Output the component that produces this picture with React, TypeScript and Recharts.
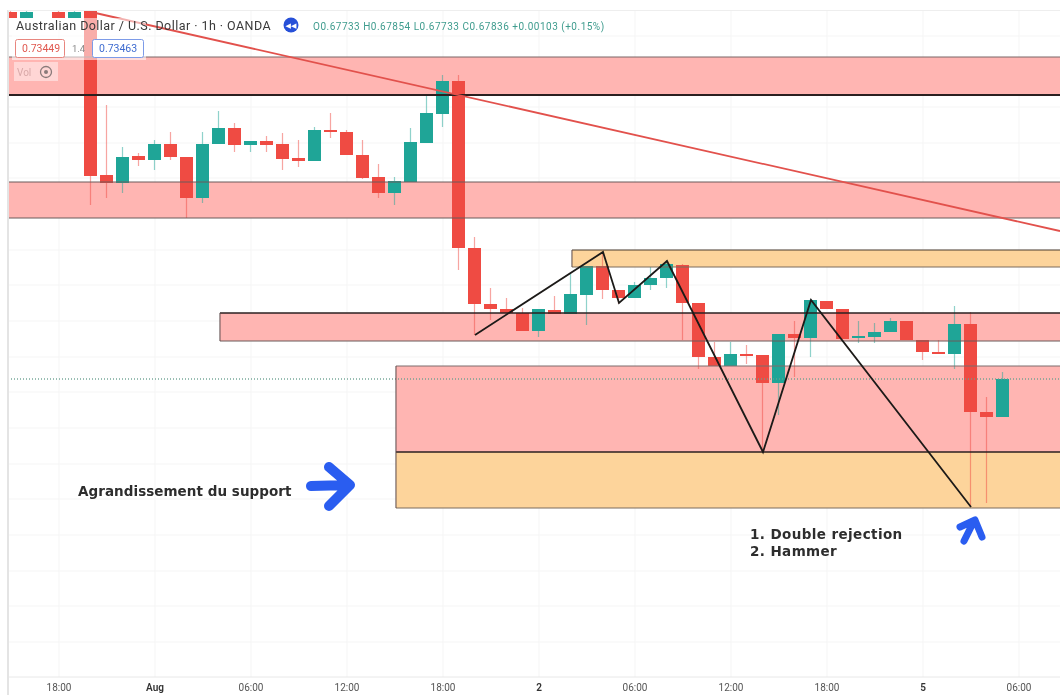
import React from "react";
import { ComposedChart, Bar, Line, XAxis, YAxis, CartesianGrid, ReferenceArea, ReferenceLine } from "recharts";

const hours = [0, 1, 3, 4, 5, 6, 7, 8, 9, 10, 11, 12, 13, 14, 15, 16, 17, 18, 19, 20, 21, 22, 23, 24, 25, 26, 27, 28, 29, 30, 31, 32, 33, 34, 35, 36, 37, 38, 39, 40, 41, 42, 43, 44, 45, 46, 47, 48, 49, 50, 51, 52, 53, 54, 55, 56, 57, 58, 59, 60, 61, 62];
const opens = [665, 659, 665, 659, 666, 502, 494, 521, 517, 533, 520, 479, 533, 549, 532, 536, 533, 519, 516, 547, 545, 522, 500, 484, 495, 534, 563, 596, 429, 373, 368, 364, 346, 367, 363, 382, 411, 387, 379, 392, 399, 412, 374, 320, 311, 323, 322, 294, 343, 339, 376, 368, 339, 340, 345, 356, 337, 325, 323, 353, 265, 260];
const highs = [666, 666, 666, 666, 667, 572, 530, 524, 537, 545, 520, 545, 566, 554, 536, 541, 544, 537, 550, 564, 547, 537, 513, 500, 549, 582, 602, 602, 440, 389, 379, 369, 368, 381, 404, 411, 425, 387, 395, 410, 417, 413, 374, 335, 335, 332, 322, 343, 356, 378, 376, 368, 356, 354, 359, 356, 337, 337, 371, 365, 280, 305];
const lows = [659, 659, 659, 659, 472, 479, 484, 511, 507, 517, 459, 474, 533, 525, 525, 525, 507, 510, 516, 539, 522, 498, 479, 472, 495, 534, 550, 407, 342, 357, 363, 346, 340, 363, 363, 352, 378, 373, 379, 387, 389, 337, 308, 311, 311, 313, 225, 262, 300, 320, 368, 338, 334, 334, 345, 337, 317, 323, 308, 170, 174, 260];
const closes = [659, 665, 659, 665, 501, 494, 520, 517, 533, 520, 479, 533, 549, 532, 536, 532, 518, 516, 547, 545, 522, 499, 484, 496, 535, 564, 596, 429, 373, 368, 364, 346, 368, 363, 383, 411, 387, 379, 392, 399, 413, 374, 320, 311, 323, 321, 294, 343, 339, 377, 368, 338, 341, 345, 356, 337, 325, 323, 353, 265, 260, 298];

const zigzagHours = [29, 37, 38, 41, 47, 50, 60];
const zigzagValues = [342, 425, 374, 416, 225, 377, 170];
const trendHours = [5, 65.5625];
const trendValues = [665, 446];

const tickHours = [3, 9, 15, 21, 27, 33, 39, 45, 51, 57, 63];
const tickLabels = ["18:00", "Aug", "06:00", "12:00", "18:00", "2", "06:00", "12:00", "18:00", "5", "06:00"];
const gridValues = [35, 71, 106, 142, 178, 213, 249, 285, 320, 356, 392, 427, 463, 499, 534, 570, 606, 641];

const X_MIN = -0.1875;
const X_MAX = 65.5625;
const lastPrice = 298;
const latestQuote = "O0.67733 H0.67854 L0.67733 C0.67836 +0.00103 (+0.15%)";

const candles = hours.map((h, i) => ({ h, open: opens[i], high: highs[i], low: lows[i], close: closes[i] }));
const zigzag = zigzagHours.map((h, i) => ({ h, v: zigzagValues[i] }));
const trend = trendHours.map((h, i) => ({ h, v: trendValues[i] }));

const RED = "#ef4b43";
const TEAL = "#1fa597";
const ZONE_RED = "#ffb5b2";
const ZONE_ORANGE = "#fdd49b";

function Candle(props: any) {
  const { x, y, width, height, payload } = props;
  const { open, close, high, low } = payload;
  const up = close >= open;
  const range = high - low || 1;
  const k = height / range;
  const top = y + (high - Math.max(open, close)) * k;
  const bodyH = Math.max(Math.abs(open - close) * k, 2);
  const cx = x + width / 2;
  const color = up ? TEAL : RED;
  return (
    <g>
      <line x1={cx} x2={cx} y1={y} y2={y + height} stroke={color} strokeOpacity={0.5} strokeWidth={1.2} />
      <rect x={x} y={top} width={width} height={bodyH} fill={color} />
    </g>
  );
}

function Tick(props: any) {
  const { x, y, payload } = props;
  const idx = tickHours.indexOf(payload.value);
  const label = tickLabels[idx];
  const strong = label === "Aug" || label === "2" || label === "5";
  return (
    <text x={x} y={y + 6} textAnchor="middle" fontFamily="Roboto" fontSize={10} fill={strong ? "#333" : "#555"} fontWeight={strong ? 600 : 400}>
      {label}
    </text>
  );
}

export default function App() {
  const zones = [
    { x1: X_MIN, y1: 582, y2: 620, fill: ZONE_RED },
    { x1: X_MIN, y1: 459, y2: 495, fill: ZONE_RED },
    { x1: 13.06, y1: 336, y2: 364, fill: ZONE_RED },
    { x1: 24.06, y1: 225, y2: 311, fill: ZONE_RED },
    { x1: 24.06, y1: 169, y2: 225, fill: ZONE_ORANGE },
    { x1: 35.06, y1: 410, y2: 427, fill: ZONE_ORANGE },
  ];
  const edges = [
    { x1: X_MIN, v: 620, c: "#7a6666", w: 1 },
    { x1: X_MIN, v: 582, c: "#2b2020", w: 2 },
    { x1: X_MIN, v: 495, c: "#6b5a5a", w: 1 },
    { x1: X_MIN, v: 459, c: "#6b5a5a", w: 1 },
    { x1: 13.06, v: 364, c: "#2b2020", w: 1.5 },
    { x1: 13.06, v: 336, c: "#6b5a5a", w: 1 },
    { x1: 24.06, v: 311, c: "#7d6d6d", w: 1 },
    { x1: 24.06, v: 225, c: "#2b2020", w: 1.5 },
    { x1: 24.06, v: 169, c: "#7d6d5d", w: 1 },
    { x1: 35.06, v: 427, c: "#4a3d30", w: 1.2 },
    { x1: 35.06, v: 410, c: "#7d6d5d", w: 1 },
  ];
  const sides = [
    { h: 13.06, a: 336, b: 364 },
    { h: 24.06, a: 169, b: 311 },
    { h: 35.06, a: 410, b: 427 },
  ];
  return (
    <div style={{ position: "absolute", left: 0, top: 0, width: 1060, height: 695, background: "#fff", filter: "blur(0.5px)", overflow: "hidden" }}>
      <ComposedChart width={1060} height={695} data={candles} margin={{ left: 8, top: 10, right: 0, bottom: 0 }}>
        <CartesianGrid stroke="#f5f5f5" horizontalValues={gridValues} verticalValues={tickHours} />
        <XAxis dataKey="h" type="number" domain={[X_MIN, X_MAX]} allowDataOverflow ticks={tickHours} tick={<Tick />} tickLine={false} axisLine={{ stroke: "#e8e8e8" }} height={18} interval={0} />
        <YAxis hide domain={[0, 667]} allowDataOverflow width={0} />
        <ReferenceLine y={lastPrice} stroke="#2f9f8f" strokeDasharray="1 2" strokeOpacity={0.7} />
        {zones.map((z, i) => (
          <ReferenceArea key={i} x1={z.x1} x2={X_MAX} y1={z.y1} y2={z.y2} fill={z.fill} fillOpacity={1} stroke="none" />
        ))}
        <ReferenceLine y={lastPrice} stroke="#7d9f8f" strokeDasharray="1 2" />
        {edges.map((e, i) => (
          <ReferenceLine key={i} segment={[{ x: e.x1, y: e.v }, { x: X_MAX, y: e.v }]} stroke={e.c} strokeWidth={e.w} />
        ))}
        {sides.map((s, i) => (
          <ReferenceLine key={i} segment={[{ x: s.h, y: s.a }, { x: s.h, y: s.b }]} stroke="#5a4a4a" strokeWidth={1} />
        ))}
        <Bar dataKey={(d: any) => [d.low, d.high]} barSize={13} shape={<Candle />} isAnimationActive={false} />
        <Line data={trend} dataKey="v" stroke="#e2514c" strokeWidth={1.8} dot={false} isAnimationActive={false} />
        <Line data={zigzag} dataKey="v" stroke="#1c1a18" strokeWidth={1.8} dot={false} isAnimationActive={false} />
      </ComposedChart>

      <svg width={1060} height={695} style={{ position: "absolute", left: 0, top: 0, pointerEvents: "none" }}>
        <line x1={8} x2={8} y1={10} y2={695} stroke="#e4e4e4" strokeWidth={2} />
        <line x1={8} x2={1060} y1={10.5} y2={10.5} stroke="#eeeeee" />
        <rect x={12} y={18} width={134} height={42} fill="#fff" fillOpacity={0.55} />
        <rect x={14} y={62} width={44} height={19} fill="#fff" fillOpacity={0.45} />
        <text x={16} y={30} fontFamily="Roboto" fontSize={12.5} fill="#3a3a3a" letterSpacing={0.45}>Australian Dollar / U.S. Dollar · 1h · OANDA</text>
        <circle cx={291} cy={25} r={7.5} fill="#2750d8" />
        <text x={291} y={28} textAnchor="middle" fontFamily="DejaVu Sans" fontSize={7} fill="#fff">◀◀</text>
        <text x={313} y={29.5} fontFamily="Roboto" fontSize={10} fill="#3f9c8e" letterSpacing={0.5}>{latestQuote}</text>
        <rect x={15.5} y={39.5} width={49} height={18} rx={2} fill="#fff" stroke="#e8867f" />
        <text x={22} y={52} fontFamily="Roboto" fontSize={10.5} fill="#e0584f">0.73449</text>
        <text x={72} y={52} fontFamily="Roboto" fontSize={9.5} fill="#888">1.4</text>
        <rect x={92.5} y={39.5} width={51} height={18} rx={2} fill="#fff" stroke="#7d9be8" />
        <text x={99} y={52} fontFamily="Roboto" fontSize={10.5} fill="#3f6cd0">0.73463</text>
        <text x={17} y={76} fontFamily="Roboto" fontSize={10} fill="#d8a8a8">Vol</text>
        <circle cx={46} cy={72} r={5.5} fill="none" stroke="#8a7a7a" strokeWidth={1.3} />
        <circle cx={46} cy={72} r={2} fill="#8a7a7a" />

        <text x={78} y={496} fontFamily="DejaVu Sans" fontWeight={700} fontSize={13.5} fill="#2d2d2d" letterSpacing={0.05}>Agrandissement du support</text>
        <text x={750} y={539} fontFamily="DejaVu Sans" fontWeight={700} fontSize={13.5} fill="#2d2d2d" letterSpacing={0.4}>1. Double rejection</text>
        <text x={750} y={556} fontFamily="DejaVu Sans" fontWeight={700} fontSize={13.5} fill="#2d2d2d" letterSpacing={0.4}>2. Hammer</text>

        <g fill="none" stroke="#2a5df0" strokeLinecap="round" strokeLinejoin="round">
          <path d="M311 486 L349 485 M329 467 L350 485 L329 506" strokeWidth={10} />
          <path d="M964 541 L973 523 M960 527 L975 520 L982 537" strokeWidth={7} />
        </g>
      </svg>
    </div>
  );
}
